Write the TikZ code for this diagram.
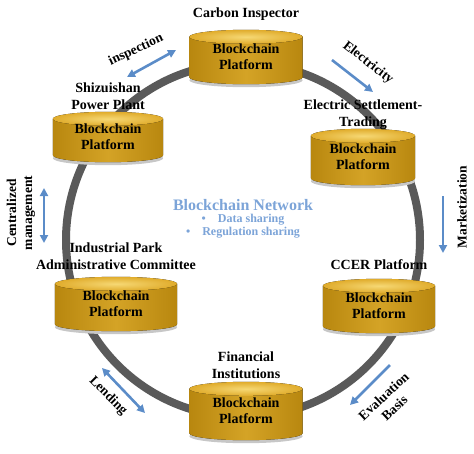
\documentclass[tikz,border=0pt]{standalone}
\usepackage{fontspec}
\setmainfont{Liberation Serif}
\usetikzlibrary{arrows.meta, positioning, backgrounds, calc}
\definecolor{ringgray}{HTML}{5A5A5A}
\definecolor{flowblue}{HTML}{5B8CC8}
\definecolor{netblue}{HTML}{7CA4D8}
\definecolor{goldbody}{HTML}{D4A326}
\definecolor{golddark}{HTML}{B8870F}
\definecolor{goldtop}{HTML}{F6D874}
\definecolor{goldrim}{HTML}{E0AC2C}
\tikzset{
    platform/.style={rectangle, minimum height=40pt, minimum width=112pt, align=center, font=\fontsize{14}{16}\selectfont\bfseries, inner sep=0pt},
    party/.style={align=center, font=\fontsize{14}{17}\selectfont\bfseries, inner sep=1pt},
    flow/.style={flowblue, line width=2.6pt, -{Triangle[length=8pt, width=8pt]}},
    flowboth/.style={flow, {Triangle[length=8pt, width=8pt]}-{Triangle[length=8pt, width=8pt]}},
    flowlabel/.style={font=\fontsize{13.5}{16}\selectfont\bfseries, align=center, inner sep=0pt},
    netnote/.style={netblue, font=\fontsize{12}{14}\selectfont\bfseries, inner sep=1pt}
}

\begin{document}
\begin{tikzpicture}[x=1pt, y=-1pt]
    \useasboundingbox (0,0) rectangle (474,453);

    % platforms on the ring
    \node (carbon) [platform, minimum width=113pt] at (246,57) {Blockchain\\Platform};
    \node (shizui) [platform, minimum width=110pt, minimum height=36pt] at (108,137) {Blockchain\\Platform};
    \node (elec) [platform, minimum width=104pt, minimum height=42pt] at (363,157) {Blockchain\\Platform};
    \node (park) [platform, minimum width=122pt] at (116,304) {Blockchain\\Platform};
    \node (ccer) [platform, minimum width=112pt] at (379,306) {Blockchain\\Platform};
    \node (fin) [platform, minimum width=113pt, minimum height=44pt] at (246,411) {Blockchain\\Platform};

    % participants
    \node (carbonlbl) [party, above=15pt of carbon] {Carbon Inspector};
    \node (shizuilbl) [party, above=8pt of shizui] {Shizuishan\\Power Plant};
    \node (eleclbl) [party, above=5pt of elec] {Electric Settlement-\\Trading};
    \node (parklbl) [party, above=13pt of park] {Industrial Park\\Administrative Committee};
    \node (ccerlbl) [party, above=15pt of ccer] {CCER Platform};
    \node (finlbl) [party, above=9pt of fin] {Financial\\Institutions};

    % network in the middle
    \node (net) [netnote, font=\fontsize{16}{18}\selectfont\bfseries] at (243,205) {Blockchain Network};
    \node (share1) [netnote, below=1pt of net] {•\hspace{12pt}Data sharing};
    \node (share2) [netnote, below=0pt of share1] {•\hspace{12pt}Regulation sharing};

    % flows
    \coordinate (insp-a) at (127,77);
    \coordinate (insp-b) at (176,50);
    \coordinate (elcy-a) at (332,60);
    \coordinate (elcy-b) at (373,92);
    \coordinate (mkt-a) at (443,196);
    \coordinate (mkt-b) at (443,253);
    \coordinate (cman-a) at (44,188);
    \coordinate (cman-b) at (44,243);
    \coordinate (lend-a) at (102,368);
    \coordinate (lend-b) at (145,413);
    \coordinate (eval-a) at (390,365);
    \coordinate (eval-b) at (350,405);

    \draw [flowboth] (insp-a) -- (insp-b);
    \draw [flow] (elcy-a) -- (elcy-b);
    \draw [flow] (mkt-a) -- (mkt-b);
    \draw [flowboth] (cman-a) -- (cman-b);
    \draw [flowboth] (lend-a) -- (lend-b);
    \draw [flow] (eval-a) -- (eval-b);

    \node (insplbl) [flowlabel, rotate=25] at (136,50) {inspection};
    \node (elcylbl) [flowlabel, rotate=-38] at (368,63) {Electricity};
    \node (mktlbl) [flowlabel, rotate=90] at (462,207) {Marketization};
    \node (cmanlbl) [flowlabel, rotate=90] at (21,213) {Centralized\\management};
    \node (lendlbl) [flowlabel, rotate=-45] at (108,396) {Lending};
    \node (evallbl) [flowlabel, rotate=43] at (389,402) {Evaluation\\Basis};

    \begin{scope}[on background layer]
        \draw [ringgray, line width=8pt] (243,240) circle [radius=177pt];
        \foreach \cyl in {carbon,shizui,elec,park,ccer,fin} {
            \fill [black!22] let \p1=(\cyl.south west), \p2=(\cyl.south east), \n1={(\x2-\x1)/2} in
                ([yshift=-3pt]\cyl.south) ellipse [x radius=\n1, y radius=7pt];
            \fill [left color=golddark, right color=golddark, middle color=goldbody]
                let \p1=(\cyl.north west), \p2=(\cyl.north east), \n1={(\x2-\x1)/2} in
                (\cyl.north west) -- (\cyl.south west)
                arc [start angle=180, end angle=360, x radius=\n1, y radius=7pt] -- (\cyl.north east) -- cycle;
            \fill [inner color=goldtop, outer color=goldrim]
                let \p1=(\cyl.north west), \p2=(\cyl.north east), \n1={(\x2-\x1)/2} in
                (\cyl.north) ellipse [x radius=\n1, y radius=7pt];
        }
    \end{scope}
\end{tikzpicture}
\end{document}
